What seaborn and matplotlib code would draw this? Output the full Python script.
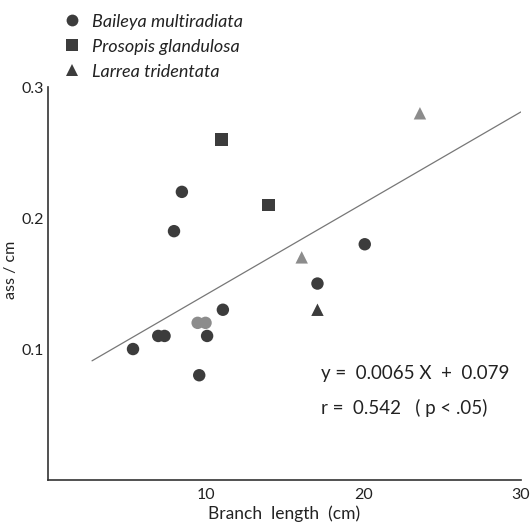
import matplotlib
matplotlib.use("Agg")
import matplotlib.pyplot as plt
from matplotlib.lines import Line2D
import pandas as pd
import seaborn as sns

# ── dados ─────────────────────────────────────────────────────────────
baileya_x = [5.4, 7.0, 7.4, 9.5, 10.0, 10.1, 9.6, 11.1, 8.5, 8.0, 20.1, 17.1]
baileya_y = [0.10, 0.11, 0.11, 0.12, 0.12, 0.11, 0.08, 0.13, 0.22, 0.19, 0.18, 0.15]
baileya_tone = ["dark", "dark", "dark", "gray", "gray", "dark", "dark", "dark",
                "dark", "dark", "dark", "dark"]

prosopis_x = [11.0, 14.0]
prosopis_y = [0.26, 0.21]
prosopis_tone = ["dark", "dark"]

larrea_x = [23.6, 16.1, 17.1]
larrea_y = [0.28, 0.17, 0.13]
larrea_tone = ["gray", "gray", "dark"]

species = ["Baileya multiradiata", "Prosopis glandulosa", "Larrea tridentata"]
markers = {species[0]: "o", species[1]: "s", species[2]: "^"}

# reta de regressão (extremos como desenhados)
fit_x = [2.8, 30.0]
fit_y = [0.091, 0.281]

x_ticks = [10, 20, 30]
y_ticks = [0.1, 0.2, 0.3]

df = pd.DataFrame({
    "x": baileya_x + prosopis_x + larrea_x,
    "y": baileya_y + prosopis_y + larrea_y,
    "tone": baileya_tone + prosopis_tone + larrea_tone,
    "species": [species[0]] * len(baileya_x) + [species[1]] * len(prosopis_x)
               + [species[2]] * len(larrea_x),
})

DARK = "#3c3c3c"
GRAY = "#8c8c8c"

sns.set_style("white")
plt.rcParams["font.family"] = ["Lato", "DejaVu Sans"]

fig = plt.figure(figsize=(5.32, 5.31), dpi=100)
ax = fig.add_axes([0.090, 0.096, 0.889, 0.740])

sns.lineplot(x=fit_x, y=fit_y, ax=ax, color="#777777", linewidth=0.9)

sns.scatterplot(data=df, x="x", y="y", style="species", markers=markers,
                hue="tone", palette={"dark": DARK, "gray": GRAY},
                s=80, linewidth=0, legend=False, ax=ax)

ax.set_xlim(0, 30)
ax.set_ylim(0, 0.3)
ax.set_xticks(x_ticks)
ax.set_xticklabels(["10", "20", "30"])
ax.set_yticks(y_ticks)
ax.set_yticklabels(["0.1", "0.2", "0.3"])
ax.tick_params(direction="in", length=5, width=0.8, color="#333333",
               labelsize=11.5, labelcolor="#222222", pad=6)
ax.tick_params(axis="y", pad=3)
for side in ["top", "right"]:
    ax.spines[side].set_visible(False)
for side in ["left", "bottom"]:
    ax.spines[side].set_color("#333333")
    ax.spines[side].set_linewidth(1.2)

ax.set_xlabel("Branch  length  (cm)", fontsize=12.5, color="#222222", labelpad=2)
ax.set_ylabel("ass / cm", fontsize=11.5, color="#222222", va="center")
ax.yaxis.set_label_coords(-0.078, 0.534)

ax.text(0.577, 0.258, "y =  0.0065 X  +  0.079", transform=ax.transAxes,
        fontsize=13.5, color="#222222")
ax.text(0.577, 0.168, "r =  0.542   ( p < .05)", transform=ax.transAxes,
        fontsize=13.5, color="#222222")

handles = [Line2D([], [], marker=markers[sp], linestyle="none", color=DARK,
                  markersize=8.5, markeredgewidth=0) for sp in species]
leg = fig.legend(handles, species, loc="upper left", bbox_to_anchor=(0.105, 0.988),
                 frameon=False, handlelength=1.0, handletextpad=0.6,
                 labelspacing=0.5, borderaxespad=0,
                 prop={"style": "italic", "size": 13})
for t in leg.get_texts():
    t.set_color("#222222")

plt.savefig("out.png", dpi=100)
plt.close()
